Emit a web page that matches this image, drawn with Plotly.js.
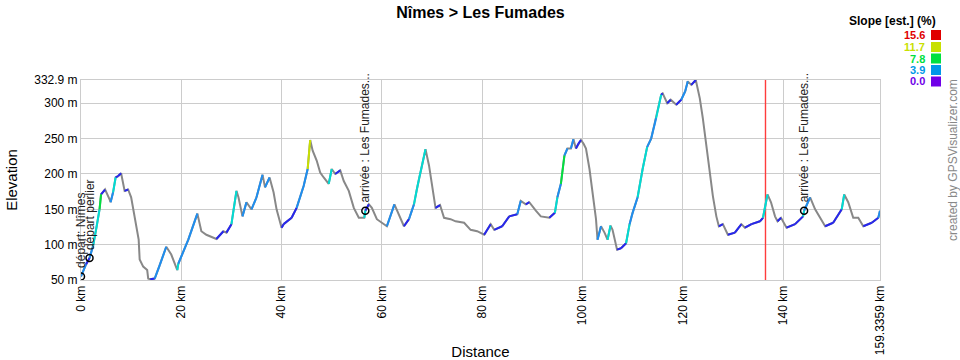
<!DOCTYPE html>
<html>
<head>
<meta charset="utf-8">
<script src="https://cdn.plot.ly/plotly-3.0.1.min.js"></script>
<style>html,body{margin:0;padding:0;background:#fff;}#chart{width:960px;height:360px;}</style>
</head>
<body>
<div id="chart"></div>
<script>
// ---- data ----
const distanceKm = [0.0,1.0,1.7,2.4,3.0,3.7,4.0,4.8,5.7,5.9,6.4,6.9,7.4,8.0,8.7,9.4,10.0,10.7,11.5,11.7,12.4,13.2,13.4,13.8,14.7,15.7,17.0,18.0,19.2,19.4,21.4,23.2,24.0,25.0,27.0,28.4,29.0,30.0,31.0,31.4,32.2,33.0,34.0,35.0,36.2,36.7,37.6,38.4,39.0,40.0,40.4,42.0,43.0,44.4,45.2,45.7,46.2,47.0,47.7,48.4,49.4,50.0,50.7,51.7,52.4,53.4,54.4,55.4,56.5,56.7,57.4,58.0,59.0,60.0,61.0,62.5,63.4,64.4,65.4,66.4,67.0,67.4,68.0,68.7,69.4,70.0,70.7,71.6,72.4,73.7,74.7,76.4,77.7,79.0,80.4,81.7,82.4,84.0,85.4,87.0,87.7,88.7,89.4,90.7,91.7,93.4,94.5,95.0,95.7,96.4,97.0,97.7,98.2,98.7,99.2,99.7,100.2,100.7,101.4,102.0,102.7,103.0,103.7,104.4,105.0,105.6,106.0,106.9,107.7,108.7,109.4,110.0,111.0,112.0,112.9,113.7,114.7,115.7,116.0,116.9,117.6,118.7,119.7,120.5,121.0,121.7,122.6,123.4,124.0,124.7,125.4,126.0,126.7,127.2,128.0,129.0,130.4,131.7,132.4,133.7,135.4,136.0,136.9,137.6,138.4,138.9,139.6,140.7,142.4,144.0,144.2,145.4,146.4,148.4,150.0,151.7,152.2,153.0,154.0,155.0,156.0,157.7,159.0,159.3359];
const elevationM = [55,72,81,98,121,150,171,178,164,160,174,195,197,201,176,178,167,140,107,79,69,64,52,51,52,71,97,86,64,73,107,144,119,114,108,119,117,129,176,167,140,160,150,167,199,181,195,174,150,124,129,138,152,183,207,248,233,219,202,195,186,207,200,205,190,176,152,138,138,148,157,152,136,131,126,157,143,126,136,157,179,193,212,235,212,183,152,156,138,136,133,131,121,119,114,129,121,126,140,143,162,157,160,148,140,138,145,167,186,226,236,236,249,236,243,248,243,236,207,174,136,107,126,117,107,127,121,93,95,102,129,145,167,207,238,250,279,312,314,300,305,298,305,317,331,326,332.9,307,279,240,198,169,140,126,129,114,117,129,124,129,133,138,171,160,140,133,138,124,129,140,148,167,150,126,131,150,171,160,138,138,126,131,138,148];

const waypointKm = [0.0, 1.7, 56.7, 144.2];
const waypointElev = [55, 81, 148, 148];
const waypointNames = ["départ: Nîmes", "départ perlier", "arrivée : Les Fumades...", "arrivée : Les Fumades..."];
const markerLineKm = 136.5;

const yRange = [50, 332.9];
const xTickVals = [0,20,40,60,80,100,120,140,159.3359];
const xTickText = ["0 km","20 km","40 km","60 km","80 km","100 km","120 km","140 km","159.3359 km"];
const yTickVals = [50,100,150,200,250,300,332.9];
const yTickText = ["50 m","100 m","150 m","200 m","250 m","300 m","332.9 m"];

const legendValues = ["15.6","11.7","7.8","3.9","0.0"];
const legendColors = ["#e00000","#c8e000","#00e040","#0098e8","#7000e8"];

// slope colour bins for ascending segments (%)
const binLower = [0,1.5,3,5,8,11,13];
const binColors = ["#2626ee","#1e8ef0","#00dcd4","#00e040","#c8e000","#f0a000","#e00000"];

// ---- geometry helpers (pixels -> paper) ----
const L = 81, R = 880, T = 80, B = 280;
const px = v => (v - L) / (R - L);
const py = v => (B - v) / (B - T);

// ---- traces ----
const traces = [];
traces.push({x: [markerLineKm, markerLineKm], y: yRange, type: 'scatter', mode: 'lines',
  line: {color: '#ff3c3c', width: 1.4}, hoverinfo: 'skip', showlegend: false});
traces.push({x: distanceKm, y: elevationM, type: 'scatter', mode: 'lines',
  line: {color: '#888888', width: 2}, hoverinfo: 'skip', showlegend: false});

const binX = binColors.map(() => []), binY = binColors.map(() => []);
for (let i = 0; i < distanceKm.length - 1; i++) {
  const de = elevationM[i+1] - elevationM[i];
  if (de <= 0) continue;
  const slope = de / ((distanceKm[i+1] - distanceKm[i]) * 1000) * 100;
  let b = 0;
  for (let k = 0; k < binLower.length; k++) if (slope >= binLower[k]) b = k;
  binX[b].push(distanceKm[i], distanceKm[i+1], null);
  binY[b].push(elevationM[i], elevationM[i+1], null);
}
binColors.forEach((c, k) => {
  traces.push({x: binX[k], y: binY[k], type: 'scatter', mode: 'lines',
    line: {color: c, width: 2}, connectgaps: false, hoverinfo: 'skip', showlegend: false});
});

traces.push({x: waypointKm, y: waypointElev, type: 'scatter', mode: 'markers',
  marker: {symbol: 'circle-open', color: '#000', size: 7, line: {width: 1.5, color: '#000'}},
  hoverinfo: 'skip', showlegend: false});

// ---- annotations ----
const FONT = 'Liberation Sans, Arial, sans-serif';
const annotations = [];
waypointNames.forEach((name, i) => {
  annotations.push({x: waypointKm[i], y: waypointElev[i], xref: 'x', yref: 'y', text: name,
    textangle: -90, showarrow: false, xanchor: 'center', yanchor: 'bottom', yshift: 6,
    font: {family: FONT, size: 12, color: '#222'}});
});
annotations.push({x: px(937), y: py(21), xref: 'paper', yref: 'paper', text: '<b>Slope [est.] (%)</b>',
  showarrow: false, xanchor: 'right', yanchor: 'middle', borderpad: 0,
  font: {family: FONT, size: 12, color: '#000'}});
const legendRowsY = [35, 47, 58.5, 70, 81.5];
legendValues.forEach((v, i) => {
  annotations.push({x: px(926), y: py(legendRowsY[i]), xref: 'paper', yref: 'paper', text: '<b>' + v + '</b>',
    showarrow: false, xanchor: 'right', yanchor: 'middle', borderpad: 0,
    font: {family: FONT, size: 11, color: legendColors[i]}});
});
annotations.push({x: px(953), y: py(160), xref: 'paper', yref: 'paper', text: 'created by GPSVisualizer.com',
  textangle: -90, showarrow: false, xanchor: 'center', yanchor: 'middle', font: {family: FONT, size: 12, color: '#888'}});

const shapes = [];
legendValues.forEach((v, i) => {
  shapes.push({type: 'rect', xref: 'paper', yref: 'paper', x0: px(931), x1: px(941),
    y0: py(legendRowsY[i] + 5), y1: py(legendRowsY[i] - 5), fillcolor: legendColors[i], line: {width: 0}});
});

const layout = {
  width: 960, height: 360,
  margin: {l: L, r: 960 - R, t: T, b: 360 - B, pad: 0},
  paper_bgcolor: '#fff', plot_bgcolor: '#fff',
  font: {family: FONT, color: '#000'},
  title: {text: '<b>Nîmes > Les Fumades</b>', x: 0.5, xref: 'paper', y: 1 - 12/360, yanchor: 'middle',
    font: {family: FONT, size: 16, color: '#000'}},
  xaxis: {range: [0, 159.3359], tickmode: 'array', tickvals: xTickVals, ticktext: xTickText,
    tickangle: -90, tickfont: {family: FONT, size: 12, color: '#000'},
    showgrid: true, gridcolor: '#cccccc', gridwidth: 1, zeroline: false,
    showline: true, linecolor: '#cccccc', mirror: true, ticks: '',
    title: {text: 'Distance', font: {family: FONT, size: 15, color: '#000'}, standoff: 8}},
  yaxis: {range: yRange, tickmode: 'array', tickvals: yTickVals, ticktext: yTickText,
    tickfont: {family: FONT, size: 12, color: '#000'},
    showgrid: true, gridcolor: '#cccccc', gridwidth: 1, zeroline: false,
    showline: true, linecolor: '#cccccc', mirror: true, ticks: '',
    title: {text: 'Elevation', font: {family: FONT, size: 15, color: '#000'}, standoff: 12}},
  annotations: annotations, shapes: shapes, showlegend: false
};

Plotly.newPlot('chart', traces, layout, {displayModeBar: false, staticPlot: true});
</script>
</body>
</html>
